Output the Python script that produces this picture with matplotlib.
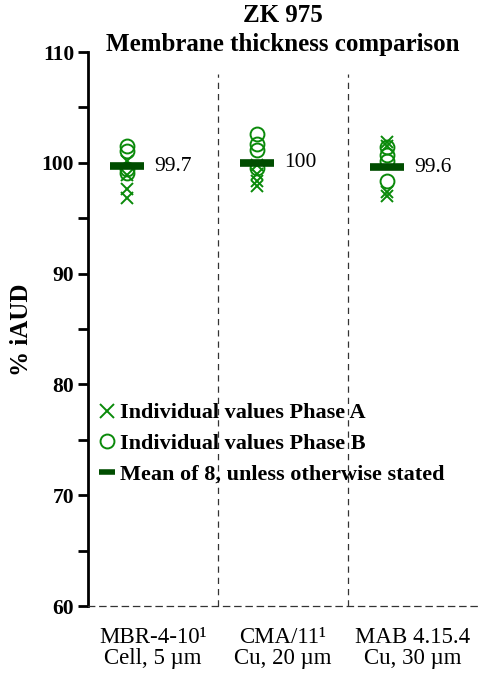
import matplotlib
matplotlib.use("Agg")
import matplotlib.pyplot as plt
from matplotlib.lines import Line2D

plt.rcParams['font.family'] = ['Liberation Serif', 'DejaVu Serif']

categories = ["MBR-4-10¹\nCell, 5 µm", "CMA/11¹\nCu, 20 µm", "MAB 4.15.4\nCu, 30 µm"]
phase_a = [
    [100.2, 98.9, 97.6, 96.8],
    [99.8, 99.0, 98.4, 97.9],
    [101.9, 101.5, 97.4, 97.0],
]
phase_b = [
    [101.5, 101.1, 99.4, 99.1],
    [102.6, 101.7, 101.2, 99.5],
    [101.4, 100.7, 100.2, 98.4],
]
means = [99.7, 100.0, 99.6]
mean_labels = ["99.7", "100", "99.6"]
legend_labels = ["Individual values Phase A", "Individual values Phase B",
                 "Mean of 8, unless otherwise stated"]

green = '#0a8a0a'
dark = '#004d00'

fig = plt.figure(figsize=(4.78, 6.74), dpi=100)
ax = fig.add_axes([88/478, 1-606/674, 1-88/478, (606-52)/674])

n = len(categories)
centers = [i + 0.5 for i in range(n)]
mk_off = -0.2
for i in range(n):
    xm = centers[i] + mk_off
    ax.plot([xm]*len(phase_a[i]), phase_a[i], linestyle='none', marker='x',
            ms=8.5, mew=1.4, color=green, zorder=3)
    ax.plot([xm]*len(phase_b[i]), phase_b[i], linestyle='none', marker='o',
            ms=10, mew=1.4, mfc='none', mec=green, zorder=3)
    ax.plot([xm], [means[i]], linestyle='none', marker='_', ms=24.5, mew=5.5,
            color=dark, zorder=4)
    ax.text(xm + 0.21, means[i], mean_labels[i], ha='left', va='center',
            fontsize=15.5, color='black')

for d in range(1, n):
    ax.axvline(d, ymin=0, ymax=0.96, color='#333333', lw=0.9, ls=(0, (5, 4)))

ax.set_xlim(0, n)
ax.set_ylim(60, 110)
ax.set_yticks([60, 70, 80, 90, 100, 110])
ax.set_yticks([65, 75, 85, 95, 105], minor=True)
for lab in ax.get_yticklabels():
    lab.set_fontweight('bold')
ax.tick_params(axis='y', which='both', direction='out', length=7, width=2,
               labelsize=15.5, pad=3)
ax.set_xticks(centers)
ax.set_xticklabels(categories, fontsize=16.5, linespacing=1.0)
ax.tick_params(axis='x', length=0, pad=15)

ax.spines['right'].set_visible(False)
ax.spines['top'].set_visible(False)
ax.spines['left'].set_linewidth(2)
ax.spines['bottom'].set_linewidth(0.9)
ax.spines['bottom'].set_linestyle((0, (5, 4)))
ax.spines['bottom'].set_color('#333333')

fig.text(22/478, 1-330/674, "% iAUD", rotation=90, ha='center', va='center',
         fontsize=18, fontweight='bold')

fig.text(283/478, 1-15/674, "ZK 975", ha='center', va='center',
         fontsize=18, fontweight='bold')
fig.text(283/478, 1-45/674, "Membrane thickness comparison", ha='center',
         va='center', fontsize=18, fontweight='bold')

handles = [
    Line2D([], [], linestyle='none', marker='x', ms=10, mew=1.4, color=green),
    Line2D([], [], linestyle='none', marker='o', ms=10, mew=1.4, mfc='none', mec=green),
    Line2D([], [], linestyle='none', marker='_', ms=12, mew=4, color=dark),
]
leg = ax.legend(handles, legend_labels, loc='upper left',
                bbox_to_anchor=(0.01, 1-(394-52)/554), frameon=False,
                handlelength=0.6, handletextpad=0.25, labelspacing=0.45,
                prop={'weight': 'bold', 'size': 16}, borderaxespad=0)

fig.savefig("out.png", dpi=100)
